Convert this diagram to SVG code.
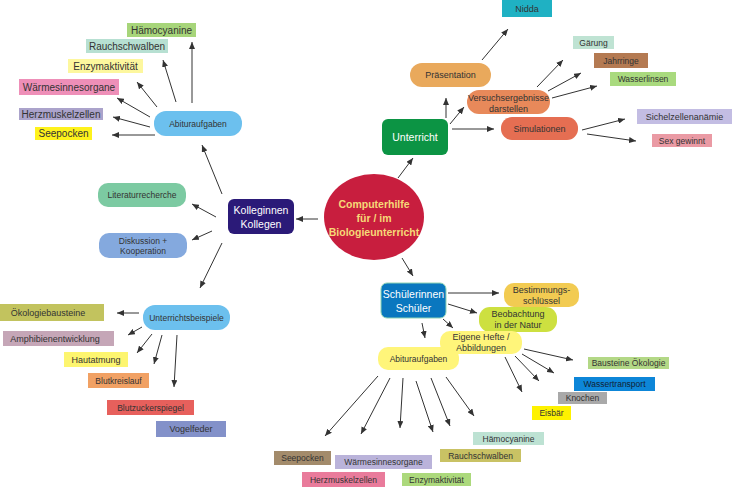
<svg xmlns="http://www.w3.org/2000/svg" width="733" height="488" viewBox="0 0 733 488">
<style>
text{font-family:"Liberation Sans",Arial,sans-serif;font-size:9px;fill:#333;text-anchor:middle;dominant-baseline:central}
.w{fill:#fff;font-size:10.5px}
.c{fill:#f6d978;font-weight:bold;font-size:10.5px}
.l{font-size:10px}
.s{font-size:8.5px}
#connectors line{stroke:#333;stroke-width:1;marker-end:url(#ah)}
</style>
<defs>
<marker id="ah" markerUnits="userSpaceOnUse" markerWidth="7" markerHeight="6" refX="7" refY="3" orient="auto">
<path d="M0,0 L7,3 L0,6 z" fill="#333"/>
</marker>
</defs>
<rect width="733" height="488" fill="#fff"/>

<g id="connectors">
<line x1="318" y1="219" x2="296" y2="219"/>
<line x1="398" y1="178" x2="413" y2="158"/>
<line x1="402" y1="258" x2="413" y2="276"/>
<line x1="446" y1="118" x2="446" y2="98"/>
<line x1="450" y1="124" x2="464" y2="107"/>
<line x1="452" y1="129" x2="494" y2="129"/>
<line x1="482" y1="60" x2="508" y2="29"/>
<line x1="537" y1="87" x2="563" y2="60"/>
<line x1="548" y1="91" x2="581" y2="73"/>
<line x1="552" y1="98" x2="597" y2="86"/>
<line x1="582" y1="130" x2="625" y2="119"/>
<line x1="587" y1="134" x2="636" y2="141"/>
<line x1="222" y1="194" x2="202" y2="145"/>
<line x1="216" y1="217" x2="192" y2="204"/>
<line x1="212" y1="231" x2="192" y2="240"/>
<line x1="222" y1="243" x2="200" y2="288"/>
<line x1="192" y1="103" x2="192" y2="42"/>
<line x1="176" y1="102" x2="163" y2="60"/>
<line x1="157" y1="107" x2="137" y2="82"/>
<line x1="150" y1="117" x2="117" y2="98"/>
<line x1="150" y1="127" x2="113" y2="117"/>
<line x1="155" y1="135" x2="112" y2="135"/>
<line x1="139" y1="313" x2="117" y2="313"/>
<line x1="142" y1="327" x2="128" y2="335"/>
<line x1="152" y1="334" x2="137" y2="353"/>
<line x1="162" y1="335" x2="154" y2="364"/>
<line x1="177" y1="335" x2="174" y2="387"/>
<line x1="448" y1="293" x2="499" y2="293"/>
<line x1="448" y1="304" x2="477" y2="313"/>
<line x1="443" y1="319" x2="453" y2="328"/>
<line x1="422" y1="323" x2="425" y2="338"/>
<line x1="524" y1="349" x2="573" y2="360"/>
<line x1="522" y1="354" x2="554" y2="373"/>
<line x1="515" y1="356" x2="539" y2="381"/>
<line x1="505" y1="357" x2="522" y2="392"/>
<line x1="378" y1="376" x2="325" y2="436"/>
<line x1="390" y1="378" x2="361" y2="434"/>
<line x1="403" y1="378" x2="400" y2="428"/>
<line x1="416" y1="381" x2="433" y2="432"/>
<line x1="431" y1="378" x2="450" y2="426"/>
<line x1="446" y1="377" x2="474" y2="416"/>
</g>

<g id="center"><ellipse cx="374" cy="217" rx="50" ry="43" fill="#c81e3e"/>
<text class="c" x="374" y="204">Computerhilfe</text><text class="c" x="374" y="218">für / im</text><text class="c" x="374" y="232">Biologieunterricht</text></g>

<g id="kolleginnen"><rect x="228" y="199" width="66" height="35" rx="6" fill="#2b1a78"/>
<text class="w" x="261" y="210">Kolleginnen</text><text class="w" x="261" y="224">Kollegen</text></g>

<g id="unterricht"><rect x="382" y="119" width="66" height="36" rx="6" fill="#0c9444"/>
<text class="w" x="415" y="137">Unterricht</text></g>

<g id="schueler"><rect x="381" y="283" width="65" height="35" rx="6" fill="#0a77bf" stroke="#8fd4b4" stroke-width="1"/>
<text class="w" x="413.5" y="294">Schülerinnen</text><text class="w" x="413.5" y="308">Schüler</text></g>

<g id="praesentation"><rect x="410" y="63" width="81" height="24" rx="12" fill="#e9a95c"/><text x="450.5" y="75">Präsentation</text></g>
<g id="versuch"><rect x="467" y="90" width="83" height="24" rx="12" fill="#e8895a"/><text x="508.5" y="98">Versuchsergebnisse</text><text x="508.5" y="108.5">darstellen</text></g>
<g id="simulationen"><rect x="501" y="117" width="77" height="23" rx="11" fill="#e56e52"/><text x="539.5" y="128.5">Simulationen</text></g>

<g id="nidda"><rect x="502" y="0" width="50" height="17" fill="#1fb1c3"/><text x="527" y="9">Nidda</text></g>
<g id="gaerung"><rect x="573" y="36" width="41" height="13" fill="#bfe3d3"/><text class="s" x="593.5" y="42.5">Gärung</text></g>
<g id="jahrringe"><rect x="594" y="53" width="54" height="15" fill="#b47a52"/><text class="s" x="621" y="60.5">Jahrringe</text></g>
<g id="wasserlinsen"><rect x="610" y="72" width="66" height="14" fill="#a9da7e"/><text class="s" x="643" y="79">Wasserlinsen</text></g>
<g id="sichel"><rect x="637" y="109" width="95" height="15" fill="#c3bde3"/><text x="684.5" y="116.5">Sichelzellenanämie</text></g>
<g id="sex"><rect x="652" y="134" width="60" height="13" fill="#ea9aa4"/><text class="s" x="682" y="140.5">Sex gewinnt</text></g>

<g id="abitur-left"><rect x="154" y="111" width="88" height="25" rx="12" fill="#6cc0ee"/><text class="s" x="198" y="123.5">Abituraufgaben</text></g>
<g id="literatur"><rect x="98" y="183" width="88" height="24" rx="10" fill="#7ccaa2"/><text class="s" x="142" y="195">Literaturrecherche</text></g>
<g id="diskussion"><rect x="99" y="233" width="88" height="25" rx="10" fill="#84a9de"/><text class="s" x="143" y="240.5">Diskussion +</text><text class="s" x="143" y="251">Kooperation</text></g>
<g id="unterrichtsbeispiele"><rect x="143" y="305" width="87" height="25" rx="12" fill="#6cc0ee"/><text class="s" x="186.5" y="317.5">Unterrichtsbeispiele</text></g>

<g id="haemo-l"><rect x="127" y="23" width="69" height="14" fill="#a7d57a"/><text class="l" x="161.5" y="30">Hämocyanine</text></g>
<g id="rauch-l"><rect x="86" y="39" width="82" height="14" fill="#b7e0d2"/><text class="l" x="127" y="46">Rauchschwalben</text></g>
<g id="enzym-l"><rect x="68" y="59" width="75" height="14" fill="#fdf79e"/><text class="l" x="105.5" y="66">Enzymaktivität</text></g>
<g id="waerme-l"><rect x="19" y="79" width="100" height="16" fill="#ee8fb8"/><text class="l" x="69" y="87">Wärmesinnesorgane</text></g>
<g id="herz-l"><rect x="19" y="108" width="84" height="12" fill="#aba3cb"/><text class="l" x="61" y="114">Herzmuskelzellen</text></g>
<g id="seepocken-l"><rect x="35" y="127" width="57" height="13" fill="#fef21c"/><text class="l" x="63.5" y="133.5">Seepocken</text></g>

<g id="oeko"><rect x="0" y="304" width="104" height="17" fill="#c2c35e"/><text x="48" y="312.5">Ökologiebausteine</text></g>
<g id="amph"><rect x="3" y="331" width="111" height="15" fill="#c5a6b7"/><text x="55" y="338.5">Amphibienentwicklung</text></g>
<g id="haut"><rect x="64" y="352" width="64" height="15" fill="#fdf56f"/><text x="96" y="359.5">Hautatmung</text></g>
<g id="blutkreislauf"><rect x="88" y="373" width="61" height="15" fill="#f1a164"/><text class="s" x="118.5" y="380.5">Blutkreislauf</text></g>
<g id="blutzucker"><rect x="107" y="400" width="87" height="15" fill="#e7605c"/><text class="s" x="150.5" y="407.5">Blutzuckerspiegel</text></g>
<g id="vogelfeder"><rect x="156" y="421" width="70" height="16" fill="#8391c9"/><text x="191" y="429">Vogelfeder</text></g>

<g id="bestimmung"><rect x="504" y="283" width="75" height="24" rx="10" fill="#f2cb52"/><text x="541.5" y="290">Bestimmungs-</text><text x="541.5" y="300.5">schlüssel</text></g>
<g id="beobachtung"><rect x="479" y="307" width="78" height="25" rx="11" fill="#cde040"/><text x="518" y="314">Beobachtung</text><text x="518" y="325">in der Natur</text></g>
<g id="eigene"><rect x="440" y="331" width="82" height="23" rx="10" fill="#fff57a"/><text x="481" y="337">Eigene Hefte /</text><text x="481" y="348">Abbildungen</text></g>
<g id="abitur-bottom"><rect x="378" y="347" width="81" height="23" rx="10" fill="#fff57a"/><text class="s" x="418.5" y="358.5">Abituraufgaben</text></g>

<g id="bausteine"><rect x="588" y="357" width="81" height="12" fill="#b3d886"/><text class="s" x="628.5" y="363">Bausteine Ökologie</text></g>
<g id="wassertransport"><rect x="574" y="377" width="81" height="14" fill="#0d86d8"/><text class="s" x="614.5" y="384" style="fill:#123">Wassertransport</text></g>
<g id="knochen"><rect x="558" y="392" width="49" height="12" fill="#a9a9a9"/><text class="s" x="582.5" y="398">Knochen</text></g>
<g id="eisbaer"><rect x="532" y="406" width="39" height="14" fill="#fef200"/><text class="s" x="551.5" y="413">Eisbär</text></g>

<g id="haemo-b"><rect x="473" y="432" width="71" height="13" fill="#bde2d3"/><text class="s" x="508.5" y="438.5">Hämocyanine</text></g>
<g id="rauch-b"><rect x="440" y="449" width="81" height="13" fill="#c9c264"/><text class="s" x="480.5" y="455.5">Rauchschwalben</text></g>
<g id="seepocken-b"><rect x="274" y="451" width="57" height="14" fill="#a38b6b"/><text class="s" x="302.5" y="458">Seepocken</text></g>
<g id="waerme-b"><rect x="335" y="455" width="97" height="14" fill="#bab3da"/><text class="s" x="383.5" y="462">Wärmesinnesorgane</text></g>
<g id="herz-b"><rect x="302" y="472" width="83" height="15" fill="#e97b9b"/><text class="s" x="343.5" y="479.5">Herzmuskelzellen</text></g>
<g id="enzym-b"><rect x="402" y="473" width="69" height="13" fill="#acd97c"/><text class="s" x="436.5" y="479.5">Enzymaktivität</text></g>
</svg>
